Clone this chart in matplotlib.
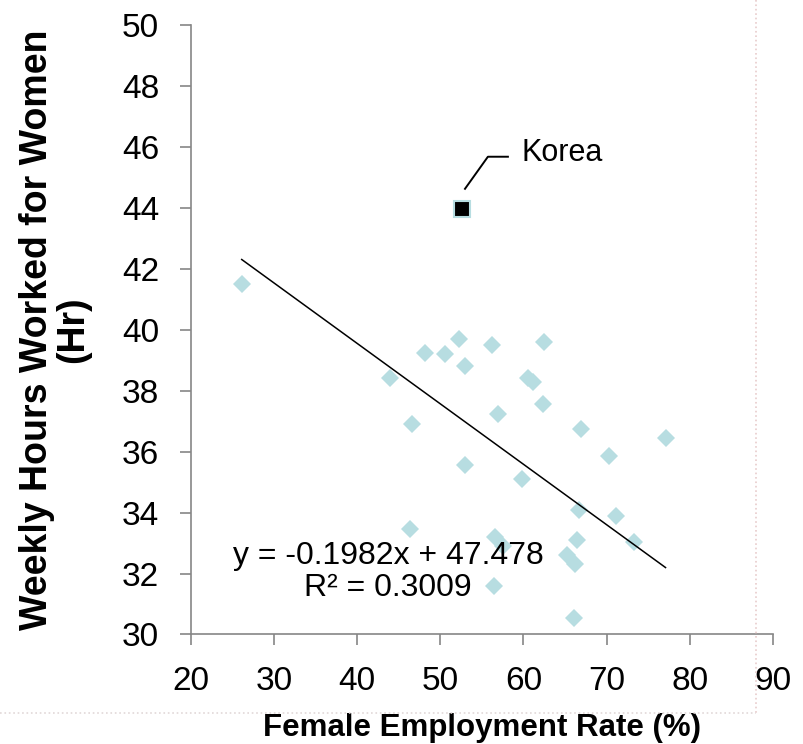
import numpy as np
import matplotlib.pyplot as plt
import matplotlib.transforms as mtransforms
from matplotlib.lines import Line2D

plt.rcParams['font.family'] = ['Liberation Sans', 'DejaVu Sans']

# OECD countries: female employment rate (%) vs weekly hours worked by women
employment = [26.1, 44.0, 48.1, 50.6, 52.3, 53.0, 56.2, 62.5, 60.5, 61.1,
              62.4, 56.9, 46.6, 66.9, 70.3, 53.0, 59.8, 77.1, 66.7, 71.1,
              73.3, 56.6, 57.6, 66.4, 65.3, 66.2, 56.4, 66.1, 46.4]
hours = [41.5, 38.4, 39.25, 39.2, 39.7, 38.8, 39.5, 39.6, 38.4, 38.3,
         37.55, 37.25, 36.9, 36.75, 35.85, 35.55, 35.1, 36.45, 34.1, 33.9,
         33.05, 33.2, 32.9, 33.1, 32.6, 32.3, 31.6, 30.55, 33.45]

korea_employment = 52.6
korea_hours = 43.95

# linear trendline (as reported on the chart)
slope = -0.1982
intercept = 47.478
r_squared = 0.3009

x_ticks = [20, 30, 40, 50, 60, 70, 80, 90]
y_ticks = [30, 32, 34, 36, 38, 40, 42, 44, 46, 48, 50]

fig = plt.figure(figsize=(8.04, 7.44), dpi=100)
ax = fig.add_axes([0.2376, 0.1472, 0.7235, 0.8192])

ax.plot(employment, hours, linestyle='none', marker='D', markersize=9.5,
        color='#b7dde1', markeredgewidth=0, zorder=2)

trend_x = np.array([min(employment), max(employment)])
ax.plot(trend_x, slope * trend_x + intercept, color='black', linewidth=1.1, zorder=3)

ax.plot([korea_employment], [korea_hours], linestyle='none', marker='s', markersize=12,
        markerfacecolor='black', markeredgecolor='#b7dde1', markeredgewidth=1.5, zorder=4)

# Korea label with bent leader line
dpi_scale = mtransforms.Affine2D().scale(fig.dpi / 72.0)
anchor = mtransforms.ScaledTranslation(korea_employment, korea_hours, ax.transData)
ax.add_line(Line2D([2.2, 18.7, 33.1], [14.8, 37.9, 37.9], color='black', linewidth=1.4,
                   transform=dpi_scale + anchor, zorder=5))
ax.annotate('Korea', xy=(korea_employment, korea_hours), xytext=(42.8, 40.5),
            textcoords='offset points', ha='left', va='center', fontsize=22)

eq_text = 'y = {:.4f}x + {:.3f}\nR² = {:.4f}'.format(slope, intercept, r_squared)
ax.text(43.7, 32.05, eq_text, ha='center', va='center', multialignment='center',
        fontsize=23, linespacing=1.05, zorder=6)

ax.set_xlim(20, 90)
ax.set_ylim(30, 50)
ax.set_xticks(x_ticks)
ax.set_yticks(y_ticks)

for side in ['top', 'right']:
    ax.spines[side].set_visible(False)
for side in ['left', 'bottom']:
    ax.spines[side].set_color('#868686')
    ax.spines[side].set_linewidth(1.2)

ax.tick_params(direction='out', length=8, width=1.2, color='#868686', pad=15, labelsize=24)

ax.set_xlabel('Female Employment Rate (%)', fontsize=22.5, fontweight='bold', va='baseline')
ax.xaxis.set_label_coords(0.5, -0.1665)
ax.set_ylabel('Weekly Hours Worked for Women\n(Hr)', fontsize=27, fontweight='bold',
              linespacing=1.0)
ax.yaxis.set_label_coords(-0.172, 0.5)

# faint chart-area border
fig.add_artist(Line2D([756 / 804, 756 / 804], [1.0, 1 - 713 / 744], color='#e8cccc',
                      linestyle=':', linewidth=1.2, transform=fig.transFigure))
fig.add_artist(Line2D([0.0, 756 / 804], [1 - 713 / 744, 1 - 713 / 744], color='#e2d8d8',
                      linestyle=':', linewidth=1.2, transform=fig.transFigure))

plt.savefig('out.png', dpi=100)
